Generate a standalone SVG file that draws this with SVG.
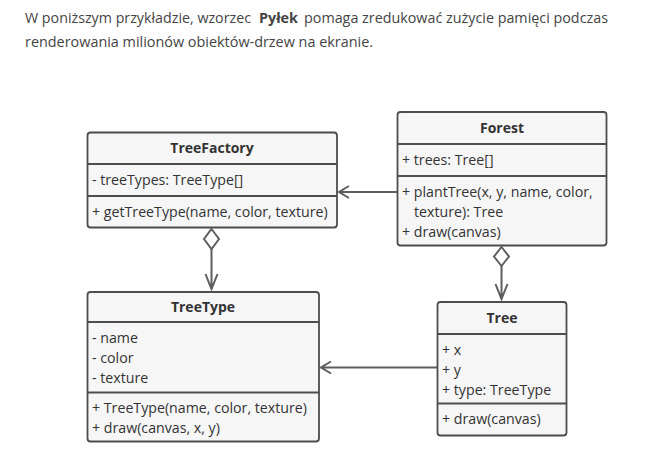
<svg xmlns="http://www.w3.org/2000/svg" width="661" height="467" viewBox="0 0 661 467">
<style>
.box{fill:#f6f6f6;stroke:#4d4d4d;stroke-width:1.8}
.div{stroke:#4d4d4d;stroke-width:1.8}
.t{font-family:"Open Sans","DejaVu Sans",sans-serif;font-size:14.2px;fill:#333}
.h{font-family:"Open Sans","DejaVu Sans",sans-serif;font-size:14px;font-weight:bold;fill:#333;text-anchor:middle}
.p{font-family:"Open Sans","Liberation Sans",sans-serif;font-size:15px;fill:#444}
.c{stroke:#5e5e5e;stroke-width:2;fill:none}
.d{stroke:#5e5e5e;stroke-width:2;fill:#fff}
</style>
<rect width="661" height="467" fill="#fff"/>
<text class="p" x="25" y="23" textLength="226" lengthAdjust="spacingAndGlyphs">W poniższym przykładzie, wzorzec</text>
<text class="p" x="259" y="23" font-weight="bold" textLength="39" lengthAdjust="spacingAndGlyphs">Pyłek</text>
<text class="p" x="304" y="23" textLength="304" lengthAdjust="spacingAndGlyphs">pomaga zredukować zużycie pamięci podczas</text>
<text class="p" x="25" y="47" textLength="348" lengthAdjust="spacingAndGlyphs">renderowania milionów obiektów-drzew na ekranie.</text>

<g id="connectors">
<path class="c" d="M397 192H339M349 186L339 192L349 198"/>
<path class="c" d="M437 367.5H321M331 361.5L321 367.5L331 373.5"/>
<path class="c" d="M211.5 249V289M205.5 274L211.5 289L217.5 274"/>
<path class="d" d="M211.5 229L219 239L211.5 249L204 239Z"/>
<path class="c" d="M501.5 266V299M495.5 284L501.5 299L507.5 284"/>
<path class="d" d="M501.5 247L509 256.5L501.5 266L494 256.5Z"/>
</g>

<g id="TreeFactory">
<rect class="box" x="87.5" y="132.5" width="249.5" height="95" rx="3"/>
<line class="div" x1="87.5" y1="164" x2="337" y2="164"/>
<line class="div" x1="87.5" y1="196" x2="337" y2="196"/>
<text class="h" x="212" y="153">TreeFactory</text>
<text class="t" x="92" y="185">- treeTypes: TreeType[]</text>
<text class="t" x="92" y="217">+ getTreeType(name, color, texture)</text>
</g>

<g id="Forest">
<rect class="box" x="397.5" y="112" width="209" height="133.5" rx="3"/>
<line class="div" x1="397.5" y1="144" x2="606.5" y2="144"/>
<line class="div" x1="397.5" y1="176" x2="606.5" y2="176"/>
<text class="h" x="502" y="133">Forest</text>
<text class="t" x="402" y="165">+ trees: Tree[]</text>
<text class="t" x="402" y="197">+ plantTree(x, y, name, color,</text>
<text class="t" x="414" y="217">texture): Tree</text>
<text class="t" x="402" y="237">+ draw(canvas)</text>
</g>

<g id="TreeType">
<rect class="box" x="87.5" y="292" width="231.5" height="149.5" rx="3"/>
<line class="div" x1="87.5" y1="322" x2="319" y2="322"/>
<line class="div" x1="87.5" y1="392.5" x2="319" y2="392.5"/>
<text class="h" x="203" y="312">TreeType</text>
<text class="t" x="92" y="343">- name</text>
<text class="t" x="92" y="363">- color</text>
<text class="t" x="92" y="383">- texture</text>
<text class="t" x="92" y="413">+ TreeType(name, color, texture)</text>
<text class="t" x="92" y="433">+ draw(canvas, x, y)</text>
</g>

<g id="Tree">
<rect class="box" x="437.5" y="302" width="129" height="133.5" rx="3"/>
<line class="div" x1="437.5" y1="334" x2="566.5" y2="334"/>
<line class="div" x1="437.5" y1="403.5" x2="566.5" y2="403.5"/>
<text class="h" x="502" y="323">Tree</text>
<text class="t" x="442" y="355">+ x</text>
<text class="t" x="442" y="375">+ y</text>
<text class="t" x="442" y="395">+ type: TreeType</text>
<text class="t" x="442" y="424">+ draw(canvas)</text>
</g>
</svg>
